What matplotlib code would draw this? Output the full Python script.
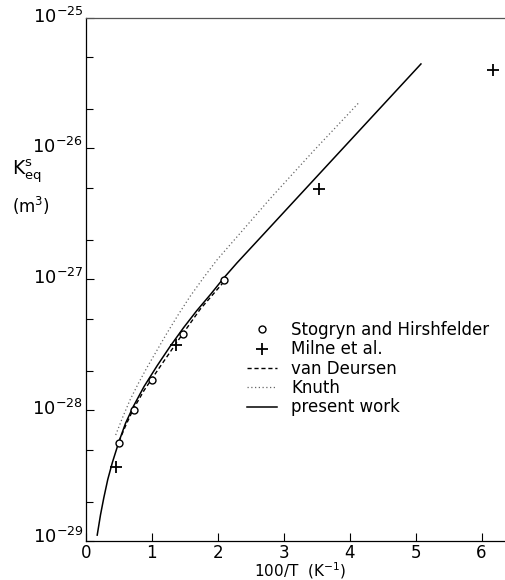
import numpy as np
import matplotlib
matplotlib.use("Agg")
import matplotlib.pyplot as plt
from matplotlib.ticker import LogLocator, FixedLocator, NullFormatter
from matplotlib.transforms import ScaledTranslation

# ---- data (x = 100/T in K^-1, y = log10 K_eq^s in m^3) ----
present_x = [0.17, 0.22, 0.27, 0.33, 0.40, 0.50, 0.60, 0.72, 0.88, 1.08, 1.28, 1.48,
             1.68, 1.89, 2.09, 2.29, 2.70, 3.12, 4.01, 5.08]
present_logy = [-28.955, -28.80, -28.67, -28.53, -28.40, -28.24, -28.10, -27.97, -27.82,
                -27.66, -27.51, -27.37, -27.24, -27.115, -26.99, -26.875, -26.652, -26.423,
                -25.938, -25.355]

knuth_x = [0.45, 0.56, 0.67, 0.80, 0.93, 1.08, 1.23, 1.40, 1.58, 1.78, 1.99, 2.49,
           2.80, 3.45, 4.01, 4.13]
knuth_logy = [-28.19, -28.05, -27.92, -27.79, -27.67, -27.54, -27.41, -27.27, -27.13,
              -26.99, -26.85, -26.56, -26.38, -26.02, -25.72, -25.655]

deursen_x = [0.50, 0.60, 0.72, 0.88, 1.08, 1.38, 1.73, 2.09]
deursen_logy = [-28.24, -28.12, -27.99, -27.85, -27.70, -27.48, -27.23, -27.02]

stogryn_x = [0.50, 0.73, 1.00, 1.47, 2.10]
stogryn_y = [5.6e-29, 1.0e-28, 1.7e-28, 3.8e-28, 9.8e-28]

milne_x = [0.46, 1.36, 3.54, 6.17]
milne_y = [3.7e-29, 3.15e-28, 4.9e-27, 4.0e-26]

xticks = [0, 1, 2, 3, 4, 5, 6]
yticks = [1e-29, 1e-28, 1e-27, 1e-26, 1e-25]
ytick_labels = ["10$^{-29}$", "10$^{-28}$", "10$^{-27}$", "10$^{-26}$", "10$^{-25}$"]

present_y = [10 ** v for v in present_logy]
knuth_y = [10 ** v for v in knuth_logy]
deursen_y = [10 ** v for v in deursen_logy]

plt.rcParams['font.family'] = ['DejaVu Sans']
plt.rcParams['mathtext.default'] = 'regular'

W, H = 506, 580
fig = plt.figure(figsize=(W / 100, H / 100), dpi=100)
left, right, top, bottom = 86, 506, 17.5, 541
ax = fig.add_axes([left / W, (H - bottom) / H, (right - left) / W, (bottom - top) / H])

ax.plot(present_x, present_y, color='black', lw=1.1, label='present work', zorder=3)
ax.plot(knuth_x, knuth_y, color='#666666', lw=0.9, ls=(0, (1, 2)), label='Knuth')
ax.plot(deursen_x, deursen_y, color='black', lw=1.0, ls=(0, (3, 2)), label='van Deursen')
ax.plot(stogryn_x, stogryn_y, ls='none', marker='o', ms=5, mfc='white', mec='black', mew=1.0,
        label='Stogryn and Hirshfelder', zorder=4)
ax.plot(milne_x, milne_y, ls='none', marker='+', ms=8, mec='black', mew=1.3,
        label='Milne et al.', zorder=4)

ax.set_yscale('log')
ax.set_xlim(0, 6.37)
ax.set_ylim(1e-29, 1e-25)
ax.set_xticks(xticks)
ax.set_xticklabels([str(t) for t in xticks], fontsize=12)
ax.yaxis.set_major_locator(FixedLocator(yticks))
ax.set_yticklabels(ytick_labels, fontsize=13)
ax.yaxis.set_minor_locator(LogLocator(base=10, subs=(2.0, 5.0)))
ax.yaxis.set_minor_formatter(NullFormatter())
ax.tick_params(axis='x', which='major', direction='in', length=6, width=0.8, pad=2)
ax.tick_params(axis='y', which='major', direction='in', length=6, width=0.8, pad=2)
ax.tick_params(axis='y', which='minor', direction='in', length=5, width=0.8)
ax.spines['right'].set_visible(False)
for s in ['left', 'bottom', 'top']:
    ax.spines[s].set_linewidth(0.9)
ax.spines['top'].set_color('#555555')

# nudge y tick labels up so the "10" sits on the tick, the lowest one a bit more
for i, lab in enumerate(ax.get_yticklabels()):
    dy = 6 if i == 0 else 3
    lab.set_transform(lab.get_transform() + ScaledTranslation(0, dy / 100, fig.dpi_scale_trans))

handles, labels = ax.get_legend_handles_labels()
order = [3, 4, 2, 1, 0]
leg = ax.legend([handles[i] for i in order], [labels[i] for i in order],
                loc='upper left', bbox_to_anchor=((247 - left) / (right - left), (bottom - 321) / (bottom - top)),
                frameon=False, fontsize=12, handlelength=1.8, handletextpad=0.85,
                labelspacing=0.08, borderaxespad=0, borderpad=0)

fig.text(300 / W, (H - 571) / H, "100/T  (K$^{-1}$)", fontsize=11, ha='center', va='center')
fig.text(12 / W, (H - 172) / H, "K$_{eq}^{s}$", fontsize=13.5, ha='left', va='center')
fig.text(12 / W, (H - 206) / H, "(m$^3$)", fontsize=12, ha='left', va='center')

fig.savefig('out.png', dpi=100)
